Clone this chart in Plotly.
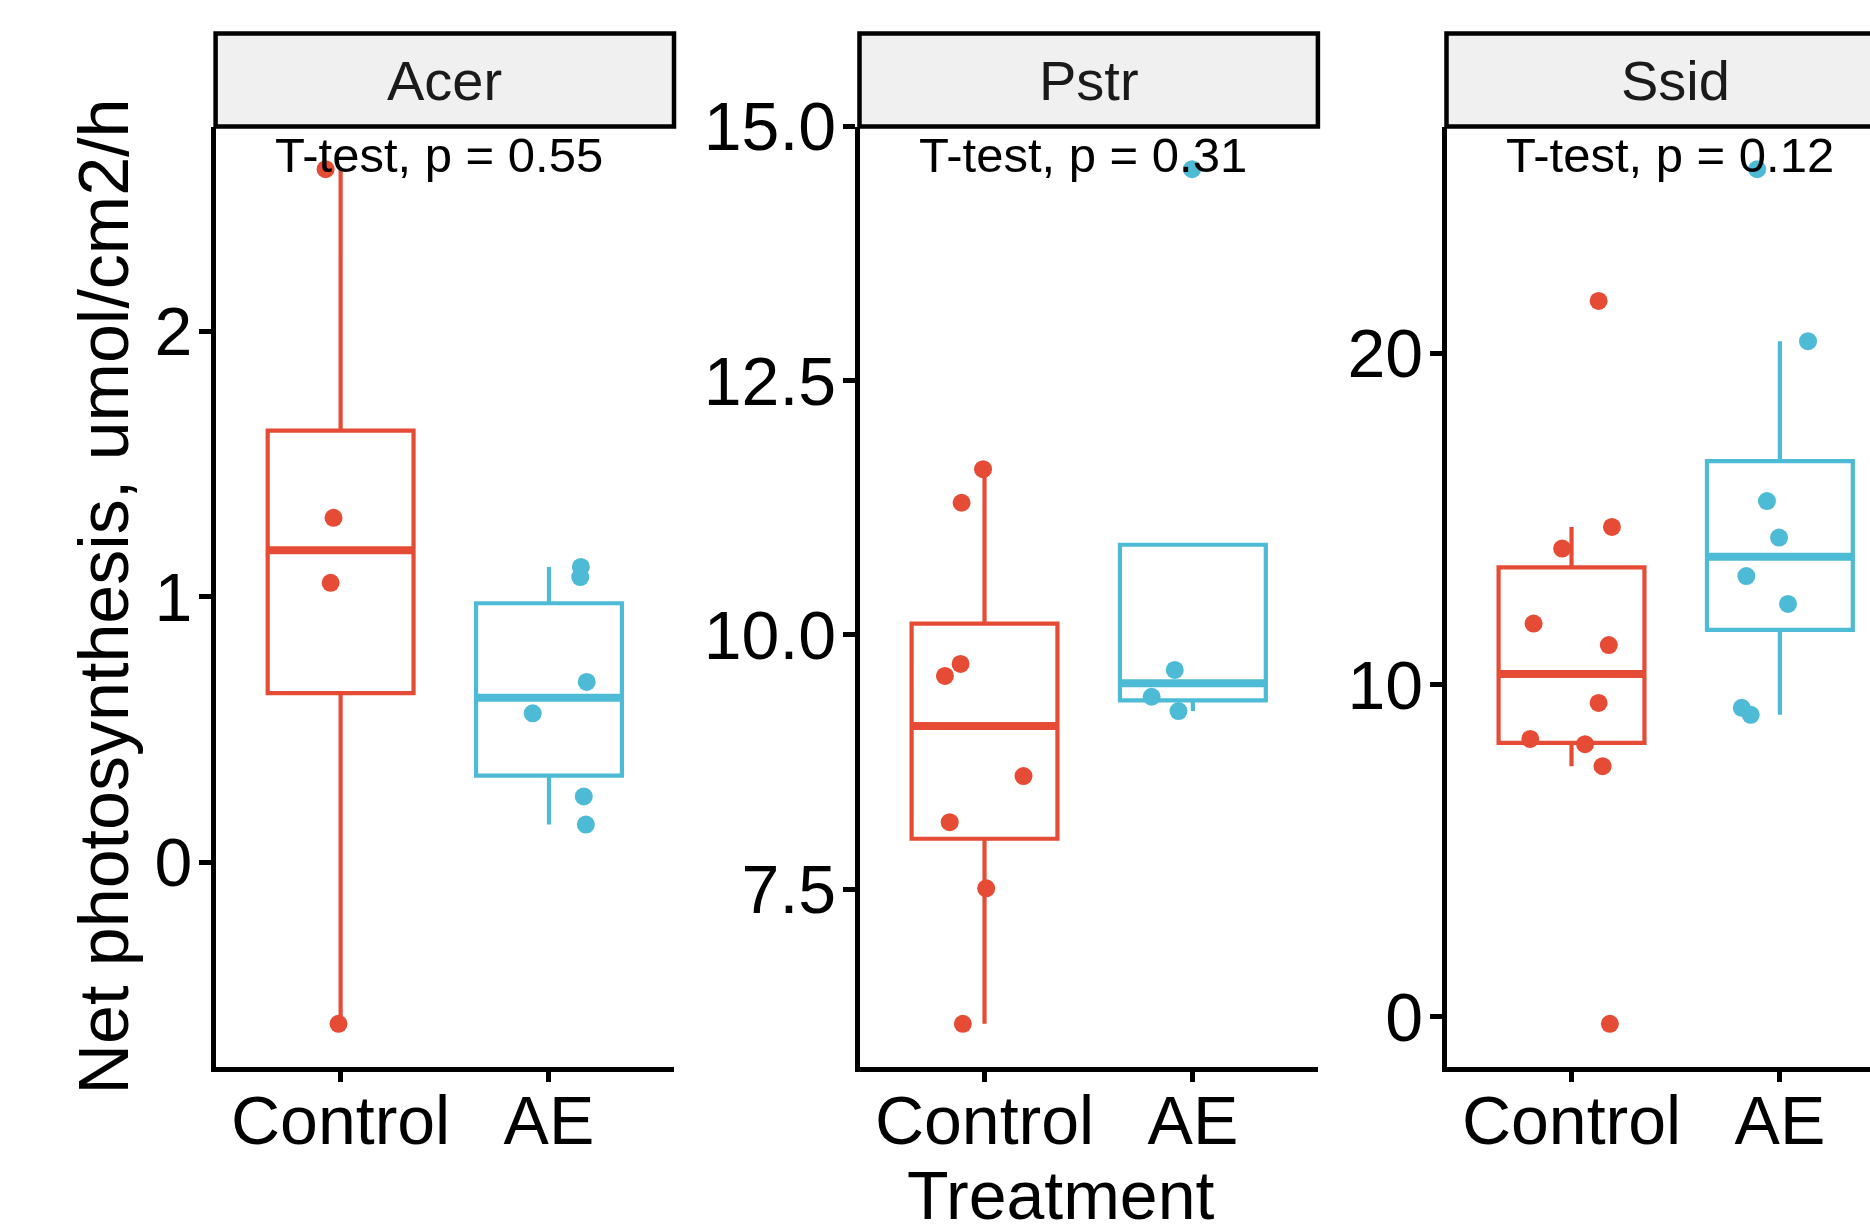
import numpy as np
import plotly.graph_objects as go

# ---------------- data ----------------
species = ["Acer", "Pstr", "Ssid"]
groups = ["Control", "AE"]
p_labels = ["T-test, p = 0.55", "T-test, p = 0.31", "T-test, p = 0.12"]

acer_control = [2.61, 1.298, 1.053, -0.607]
acer_control_jitter = [-0.072, -0.034, -0.048, -0.010]
acer_ae = [1.113, 1.075, 0.680, 0.562, 0.249, 0.143]
acer_ae_jitter = [0.153, 0.150, 0.181, -0.078, 0.167, 0.177]

pstr_control = [11.63, 11.30, 9.715, 9.597, 8.612, 8.158, 7.508, 6.175]
pstr_control_jitter = [-0.007, -0.110, -0.115, -0.190, 0.187, -0.167, 0.008, -0.104]
pstr_ae = [14.58, 9.656, 9.392, 9.251]
pstr_ae_jitter = [-0.004, -0.087, -0.198, -0.069]

ssid_control = [21.57, 14.76, 14.11, 11.85, 11.20, 9.458, 8.371, 8.214, 7.552, -0.214]
ssid_control_jitter = [0.130, 0.194, -0.045, -0.182, 0.179, 0.130, -0.198, 0.065, 0.149, 0.184]
ssid_ae = [25.54, 20.36, 15.54, 14.44, 13.28, 12.44, 9.31, 9.10]
ssid_ae_jitter = [-0.109, 0.135, -0.062, -0.004, -0.161, 0.039, -0.183, -0.140]

acer_ticks = [0, 1, 2]
acer_ticktext = ["0", "1", "2"]
pstr_ticks = [7.5, 10.0, 12.5, 15.0]
pstr_ticktext = ["7.5", "10.0", "12.5", "15.0"]
ssid_ticks = [0, 10, 20]
ssid_ticktext = ["0", "10", "20"]

y_title = "Net photosynthesis, umol/cm2/h"
x_title = "Treatment"

# ---------------- styling / layout ----------------
W, H = 1870, 1228
FONT = "Liberation Sans, Arial, sans-serif"
colors = {"Control": "#E64B35", "AE": "#4DBBD5"}
BOX_W = 0.7
panel_left_px = [215.6, 859.5, 1446.5]
panel_w_px = 458.4
plot_top_px, plot_bot_px = 126.5, 1066.6
strip_top_px = 33.6


def px(x):
    return x / W


def py(y):
    return 1 - y / H


def box_stats(v):
    a = np.sort(np.asarray(v, float))
    q1, med, q3 = np.percentile(a, [25, 50, 75])
    iqr = q3 - q1
    inside = a[(a >= q1 - 1.5 * iqr) & (a <= q3 + 1.5 * iqr)]
    lo = min(q1, inside.min())
    hi = max(q3, inside.max())
    return q1, med, q3, lo, hi


panels = [
    (acer_control, acer_control_jitter, acer_ae, acer_ae_jitter, acer_ticks, acer_ticktext),
    (pstr_control, pstr_control_jitter, pstr_ae, pstr_ae_jitter, pstr_ticks, pstr_ticktext),
    (ssid_control, ssid_control_jitter, ssid_ae, ssid_ae_jitter, ssid_ticks, ssid_ticktext),
]

fig = go.Figure()
shapes = []
annotations = []
layout_axes = {}

for i, (c_vals, c_jit, a_vals, a_jit, ticks, ticktext) in enumerate(panels):
    k = i + 1
    xa = "x" if k == 1 else f"x{k}"
    ya = "y" if k == 1 else f"y{k}"
    for g_idx, (g, vals, jit) in enumerate([("Control", c_vals, c_jit), ("AE", a_vals, a_jit)]):
        pos = g_idx + 1
        q1, med, q3, lo, hi = box_stats(vals)
        fig.add_trace(go.Box(
            x=[pos], q1=[q1], median=[med], q3=[q3], lowerfence=[lo], upperfence=[hi],
            width=BOX_W, whiskerwidth=0, boxpoints=False,
            line=dict(color=colors[g], width=4.2), fillcolor="rgba(255,255,255,0)",
            xaxis=xa, yaxis=ya, showlegend=False, hoverinfo="skip"))
        fig.add_trace(go.Scatter(
            x=[pos - BOX_W / 2, pos + BOX_W / 2], y=[med, med], mode="lines",
            line=dict(color=colors[g], width=8), xaxis=xa, yaxis=ya,
            showlegend=False, hoverinfo="skip"))
        fig.add_trace(go.Scatter(
            x=[pos + j for j in jit], y=vals, mode="markers",
            marker=dict(color=colors[g], size=18, line=dict(width=0)),
            xaxis=xa, yaxis=ya, showlegend=False, hoverinfo="skip"))

    all_vals = np.array(c_vals + a_vals, float)
    span = all_vals.max() - all_vals.min()
    yr = [all_vals.min() - 0.05 * span, all_vals.max() + 0.05 * span]

    left = panel_left_px[i]
    right = left + panel_w_px
    if right > W:
        x_dom = [px(left), 1.0]
        x_rng = [0.4, 0.4 + 2.2 * (W - left) / panel_w_px]
    else:
        x_dom = [px(left), px(right)]
        x_rng = [0.4, 2.6]

    axis_common = dict(showline=True, linecolor="black", linewidth=4.5, ticks="outside",
                       tickcolor="black", tickwidth=4.5, showgrid=False, zeroline=False,
                       automargin=False,
                       tickfont=dict(family=FONT, size=68, color="black"), fixedrange=True)
    layout_axes["xaxis" if k == 1 else f"xaxis{k}"] = dict(
        domain=x_dom, range=x_rng, autorange=False, tickmode="array", tickvals=[1, 2],
        ticktext=groups, anchor=ya, ticklen=11, ticklabelstandoff=-20, **axis_common)
    layout_axes["yaxis" if k == 1 else f"yaxis{k}"] = dict(
        domain=[py(plot_bot_px), py(plot_top_px)], range=yr, autorange=False,
        tickmode="array", tickvals=ticks, ticktext=ticktext, anchor=xa, ticklen=12,
        ticklabelstandoff=-7, **axis_common)

    # strip
    shapes.append(dict(type="rect", xref="paper", yref="paper",
                       x0=px(left), x1=px(right), y0=py(plot_top_px), y1=py(strip_top_px),
                       fillcolor="#F0F0F0", line=dict(color="black", width=4.5), layer="above"))
    center = left + panel_w_px / 2
    annotations.append(dict(text=species[i], xref="paper", yref="paper",
                            x=px(center), y=py((strip_top_px + plot_top_px) / 2),
                            xanchor="center", yanchor="middle", showarrow=False,
                            font=dict(family=FONT, size=56, color="#1a1a1a")))
    annotations.append(dict(text=p_labels[i], xref="paper", yref="paper",
                            x=px(center - 6), y=py(155), xanchor="center", yanchor="middle",
                            showarrow=False, font=dict(family=FONT, size=49, color="black")))

annotations.append(dict(text=y_title, xref="paper", yref="paper", x=px(104),
                        y=py((plot_top_px + plot_bot_px) / 2), textangle=-90,
                        xanchor="center", yanchor="middle", showarrow=False,
                        font=dict(family=FONT, size=70, color="black")))
annotations.append(dict(text=x_title, xref="paper", yref="paper",
                        x=px((panel_left_px[0] + panel_left_px[2] + panel_w_px) / 2),
                        y=py(1195), xanchor="center", yanchor="middle", showarrow=False,
                        font=dict(family=FONT, size=68, color="black")))

fig.update_layout(width=W, height=H, margin=dict(l=0, r=0, t=0, b=0, pad=0),
                  paper_bgcolor="white", plot_bgcolor="white", showlegend=False,
                  shapes=shapes, annotations=annotations, **layout_axes)

fig.write_html("out.html", config={"displayModeBar": False})
